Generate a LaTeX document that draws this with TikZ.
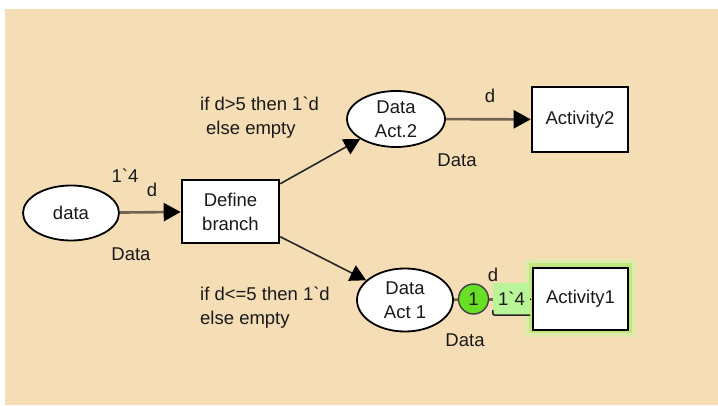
\documentclass[tikz,border=0pt]{standalone}
\usepackage{fontspec}
\setmainfont{Liberation Sans}
\usepackage{xcolor}
\usepackage{tikz}
\usetikzlibrary{positioning,shapes.geometric,arrows.meta}

\definecolor{cpnbg}{RGB}{245,222,181}
\definecolor{arcgray}{RGB}{112,100,80}
\definecolor{tokgreen}{RGB}{104,222,38}
\definecolor{lblgreen}{RGB}{186,244,152}
\definecolor{glowout}{RGB}{224,234,172}
\definecolor{glowin}{RGB}{196,230,126}

\begin{document}
\begin{tikzpicture}[
  x=1pt, y=-1pt,
  every node/.style={font=\fontsize{18.5}{24}\selectfont, text=black!90},
  place/.style ={draw, ellipse, line width=1.8pt, fill=white,
                 align=center, inner sep=0pt},
  trans/.style ={draw, line width=2.6pt, fill=white,
                 align=center, inner sep=0pt},
  lbl/.style   ={inner sep=0pt},
  token/.style ={draw=black!75, circle, line width=1.4pt, fill=tokgreen,
                 minimum size=30pt, inner sep=0pt},
  arc/.style   ={-{Triangle[length=17pt,width=18pt,color=black]},
                 line width=2.6pt, arcgray},
  darc/.style  ={-{Triangle[length=16pt,width=17pt,color=black]},
                 line width=1.6pt, black!85}
]

%% ---- Canvas -------------------------------------------------------
\useasboundingbox (0,0) rectangle (718,406);
\fill[cpnbg] (5,9) rectangle (718,405);

%% ---- Highlight of enabled transition ------------------------------
\node[fill=glowout, minimum width=111pt, minimum height=78pt] (glowA) at (580.5,298) {};
\node[fill=glowin,  minimum width=103pt, minimum height=70pt] (glowB) at (580.5,298) {};

%% ---- Places -------------------------------------------------------
\node[place, minimum width=96pt, minimum height=55pt] (data) at (71,213) {data};
\node[place, minimum width=98pt, minimum height=56pt] (act2) at (396,119) {Data\\Act.2};
\node[place, minimum width=96pt, minimum height=63pt] (act1) at (405,300) {Data\\Act 1};

%% ---- Transitions --------------------------------------------------
\node[trans, minimum width=97pt, minimum height=63pt] (define) at (230.5,211.5) {Define\\branch};
\node[trans, minimum width=96pt, minimum height=65pt] (activity2) at (580,119.5) {Activity2};
\node[trans, minimum width=95pt, minimum height=62pt] (activity1) at (580.5,299) {Activity1};

%% ---- Arcs ---------------------------------------------------------
\draw[arc]  (data) -- (define);
\draw[darc] (define) -- (act2);
\draw[darc] (define) -- (act1);
\draw[arc]  (act2) -- (activity2);
\draw[arc]  (act1) -- (activity1);

%% ---- Colour sets and inscriptions ---------------------------------
\node[lbl] (initmark) at (125,176) {1\textasciigrave 4};
\node[lbl] (arcd1)    at (152,190) {d};
\node[lbl] (csdata)   at (131,254) {Data};
\node[lbl] (arcd2)    at (490,96)  {d};
\node[lbl] (csact2)   at (457,160) {Data};
\node[lbl] (arcd3)    at (493,275) {d};
\node[lbl] (csact1)   at (465,340) {Data};

\node[lbl, anchor=west, align=left] (guard2) at (200,117.5)
      {if d>5 then 1\textasciigrave d\\\hspace*{6pt}else empty};
\node[lbl, anchor=west, align=left] (guard1) at (200,307.5)
      {if d<=5 then 1\textasciigrave d\\else empty};

%% ---- Current marking of Act 1 -------------------------------------
\node[token] (tok) at (473.5,299) {1};
\node[fill=lblgreen, minimum width=37pt, minimum height=32pt, inner sep=0pt]
      (tokval) at (511.5,299) {1\textasciigrave 4};
\draw[line width=1.6pt, black!85, rounded corners=2pt]
      ([yshift=5pt]tokval.south west) |- (tokval.south east);

\end{tikzpicture}
\end{document}
